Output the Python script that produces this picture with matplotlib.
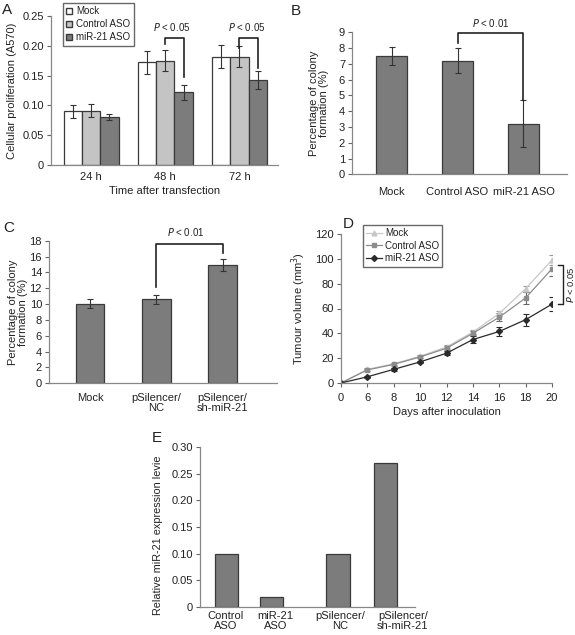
import matplotlib
matplotlib.use("Agg")
import matplotlib.pyplot as plt
from matplotlib.patches import Patch
from matplotlib.lines import Line2D
import numpy as np

plt.rcParams['font.family'] = ['Liberation Sans', 'DejaVu Sans']
plt.rcParams['text.color'] = '#222222'
plt.rcParams['axes.labelcolor'] = '#222222'
plt.rcParams['xtick.color'] = '#666666'
plt.rcParams['ytick.color'] = '#666666'
plt.rcParams['xtick.labelcolor'] = '#222222'
plt.rcParams['ytick.labelcolor'] = '#222222'

# ---------------- data ----------------
a_times = ['24 h', '48 h', '72 h']
a_groups = ['Mock', 'Control ASO', 'miR-21 ASO']
a_mock = [0.090, 0.172, 0.182]
a_ctrl = [0.091, 0.175, 0.182]
a_mir = [0.080, 0.122, 0.142]
a_mock_err = [0.011, 0.020, 0.020]
a_ctrl_err = [0.011, 0.018, 0.017]
a_mir_err = [0.005, 0.013, 0.015]

b_cats = ['Mock', 'Control ASO', 'miR-21 ASO']
b_vals = [7.5, 7.2, 3.2]
b_err = [0.56, 0.8, 1.5]

c_cats = ['Mock', 'pSilencer/\nNC', 'pSilencer/\nsh-miR-21']
c_vals = [10.05, 10.6, 14.9]
c_err = [0.55, 0.6, 0.75]

d_days = ['0', '6', '8', '10', '12', '14', '16', '18', '20']
d_mock = [0, 11, 15.5, 21.5, 29, 41, 56, 76, 99]
d_ctrl = [0, 10.5, 15, 21, 28, 40, 53, 68.5, 92]
d_mir = [0, 5, 11, 17, 24, 35, 41.5, 51, 63.5]
d_mock_err = [0, 1, 1, 1, 1.5, 1.5, 2, 2.5, 4]
d_ctrl_err = [0, 1, 1, 1, 1.5, 1.5, 3, 4.7, 5.6]
d_mir_err = [0, 1, 1, 1, 1.5, 2.5, 3.5, 4.8, 5.8]

e_cats = ['Control\nASO', 'miR-21\nASO', 'pSilencer/\nNC', 'pSilencer/\nsh-miR-21']
e_vals = [0.10, 0.018, 0.10, 0.27]

# ---------------- figure ----------------
W, H = 575, 635
fig = plt.figure(figsize=(W / 100, H / 100), dpi=100)

def ax_px(x0, y_top, x1, y_bot):
    return fig.add_axes([x0 / W, 1 - y_bot / H, (x1 - x0) / W, (y_bot - y_top) / H])

FS = 8

def style(ax):
    for s in ['top', 'right']:
        ax.spines[s].set_visible(False)
    for s in ['left', 'bottom']:
        ax.spines[s].set_color('#888888')
        ax.spines[s].set_linewidth(0.9)
    ax.tick_params(axis='both', labelsize=FS, length=3, width=0.8, pad=2)
    ax.tick_params(axis='x', length=0, pad=5)

BAR = '#7c7c7c'
EDGE = '#3a3a3a'
ekw = dict(ecolor='#333333', elinewidth=0.8, capsize=2, capthick=0.8)

# ---------------- A ----------------
axA = ax_px(51, 16, 278, 165)
style(axA)
x = np.arange(len(a_times))
w = 0.247
axA.bar(x - w, a_mock, w, color='white', edgecolor=EDGE, linewidth=0.9, yerr=a_mock_err, error_kw=ekw)
axA.bar(x, a_ctrl, w, color='#c4c4c4', edgecolor=EDGE, linewidth=0.9, yerr=a_ctrl_err, error_kw=ekw)
axA.bar(x + w, a_mir, w, color=BAR, edgecolor=EDGE, linewidth=0.9, yerr=a_mir_err, error_kw=ekw)
axA.set_xlim(-0.54, 2.52)
axA.set_ylim(0, 0.25)
axA.set_yticks([0, 0.05, 0.10, 0.15, 0.20, 0.25])
axA.set_yticklabels(['0', '0.05', '0.10', '0.15', '0.20', '0.25'])
axA.set_xticks(x)
axA.set_xticklabels(a_times)
axA.set_xlabel('Time after transfection', fontsize=FS, labelpad=3)
axA.set_ylabel('Cellular proliferation (A570)', fontsize=FS)
axA.yaxis.set_label_coords(-0.148, 0.5)
for i, (l_b, r_b) in zip([1, 2], [(0.203, 0.147), (0.197, 0.163)]):
    top = 0.213
    axA.plot([i, i, i + w, i + w], [l_b, top, top, r_b], color='#222222', lw=1.2)
    axA.text(i + w / 2 - 0.03, top + 0.008, r'$P$ < 0.05', ha='center', va='bottom', fontsize=7)
fig.legend(handles=[Patch(facecolor='white', edgecolor=EDGE, label='Mock'),
                    Patch(facecolor='#c4c4c4', edgecolor=EDGE, label='Control ASO'),
                    Patch(facecolor=BAR, edgecolor=EDGE, label='miR-21 ASO')],
           loc='upper left', bbox_to_anchor=(63 / W, 1 - 3 / H), fontsize=7,
           frameon=True, fancybox=False, edgecolor='#444444', handlelength=0.6,
           handleheight=0.6, handletextpad=0.4, borderpad=0.35, labelspacing=0.3,
           borderaxespad=0)

# ---------------- B ----------------
axB = ax_px(352, 32.3, 567, 174.3)
style(axB)
xb = np.arange(len(b_cats))
axB.bar(xb, b_vals, 0.48, color=BAR, edgecolor=EDGE, linewidth=0.9, yerr=b_err, error_kw=ekw)
axB.set_xlim(-0.6, 2.66)
axB.set_ylim(0, 9)
axB.set_yticks(range(0, 10))
axB.set_xticks(xb)
axB.set_xticklabels(b_cats)
axB.tick_params(axis='x', pad=9)
axB.set_ylabel('Percentage of colony\nformation (%)', fontsize=FS, linespacing=1.1)
axB.yaxis.set_label_coords(-0.105, 0.5)
axB.plot([1, 1, 2, 2], [8.3, 8.95, 8.95, 4.7], color='#222222', lw=1.2)
axB.text(1.5, 9.2, r'$P$ < 0.01', ha='center', va='bottom', fontsize=7)

# ---------------- C ----------------
axC = ax_px(49, 240.7, 277, 383.3)
style(axC)
xc = np.arange(len(c_cats))
axC.bar(xc, c_vals, 0.43, color=BAR, edgecolor=EDGE, linewidth=0.9, yerr=c_err, error_kw=ekw)
axC.set_xlim(-0.62, 2.82)
axC.set_ylim(0, 18)
axC.set_yticks(range(0, 19, 2))
axC.set_xticks(xc)
axC.set_xticklabels(c_cats, linespacing=1.05)
axC.tick_params(axis='x', pad=7)
axC.set_ylabel('Percentage of colony\nformation (%)', fontsize=FS, linespacing=1.1)
axC.yaxis.set_label_coords(-0.09, 0.5)
axC.plot([1, 1, 2, 2], [12.2, 17.55, 17.55, 16.4], color='#222222', lw=1.2)
axC.text(1.45, 18.4, r'$P$ < 0.01', ha='center', va='bottom', fontsize=7)

# ---------------- D ----------------
axD = ax_px(341, 234, 552, 383)
style(axD)
axD.tick_params(axis='x', length=3, pad=4)
xd = np.arange(len(d_days))
lkw = dict(linewidth=0.9, elinewidth=0.8, capsize=2, capthick=0.8)
axD.errorbar(xd, d_mock, yerr=d_mock_err, color='#c8c8c8', marker='^', ms=3.5, label='Mock', ecolor='#999999', **lkw)
axD.errorbar(xd, d_ctrl, yerr=d_ctrl_err, color='#8c8c8c', marker='s', ms=3.5, label='Control ASO', ecolor='#666666', **lkw)
axD.errorbar(xd, d_mir, yerr=d_mir_err, color='#2a2a2a', marker='D', ms=3, label='miR-21 ASO', ecolor='#2a2a2a', **lkw)
axD.set_xlim(0, 8)
axD.set_ylim(0, 120)
axD.set_yticks(range(0, 121, 20))
axD.set_xticks(xd)
axD.set_xticklabels(d_days)
axD.set_xlabel('Days after inoculation', fontsize=FS, labelpad=3)
axD.set_ylabel('Tumour volume (mm$^3$)', fontsize=FS)
axD.yaxis.set_label_coords(-0.155, 0.5)
axD.plot([8.22, 8.42, 8.42, 8.22], [95, 95, 64, 64], color='#222222', lw=1.0, clip_on=False)
axD.text(8.7, 79.5, r'$P$ < 0.05', rotation=90, ha='center', va='center', fontsize=6.8)
handles = [Line2D([], [], color='#c8c8c8', marker='^', lw=0.9, ms=3.5, label='Mock'),
           Line2D([], [], color='#8c8c8c', marker='s', lw=0.9, ms=3.5, label='Control ASO'),
           Line2D([], [], color='#2a2a2a', marker='D', lw=0.9, ms=3, label='miR-21 ASO')]
fig.legend(handles=handles, loc='upper left', bbox_to_anchor=(363 / W, 1 - 225 / H), fontsize=7,
           frameon=True, fancybox=False, edgecolor='#444444', handlelength=1.6,
           handletextpad=0.3, borderpad=0.35, labelspacing=0.25, borderaxespad=0)

# ---------------- E ----------------
axE = ax_px(200, 447, 415, 607)
style(axE)
xe_bars = [0, 1, 2.48, 3.54]
xe_labels = [-0.03, 1.09, 2.53, 3.92]
axE.bar(xe_bars, e_vals, 0.52, color=BAR, edgecolor=EDGE, linewidth=0.9)
axE.set_xlim(-0.59, 4.19)
axE.set_ylim(0, 0.30)
axE.set_yticks([0, 0.05, 0.10, 0.15, 0.20, 0.25, 0.30])
axE.set_yticklabels(['0', '0.05', '0.10', '0.15', '0.20', '0.25', '0.30'])
axE.set_xticks(xe_labels)
axE.set_xticklabels(e_cats, linespacing=1.0)
axE.tick_params(axis='x', pad=3)
axE.set_ylabel('Relative miR-21 expression levie', fontsize=7.8)
axE.yaxis.set_label_coords(-0.172, 0.45)

# ---------------- panel letters ----------------
for lab, px, py in [('A', 2, 10), ('B', 291, 11), ('C', 3, 228), ('D', 343, 224), ('E', 152, 438)]:
    fig.text(px / W, 1 - py / H, lab, fontsize=11, ha='left', va='center', color='#222222')

fig.savefig('out.png', dpi=100, facecolor='white')
